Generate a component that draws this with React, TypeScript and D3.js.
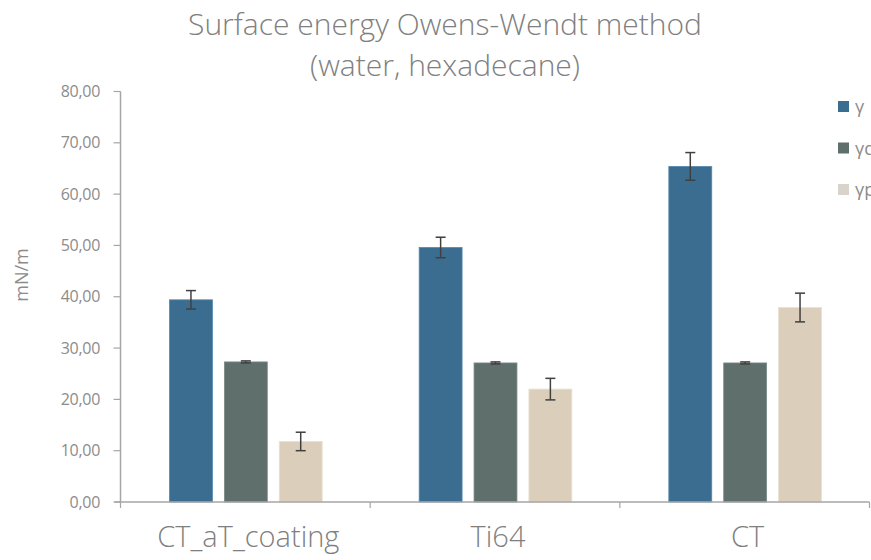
import React from "react";
import * as d3 from "d3";

const categories = ["CT_aT_coating", "Ti64", "CT"];
const series = ["γ", "γd", "γp"];
const gammaTotal = [39.4, 49.6, 65.4];
const gammaDisp = [27.3, 27.1, 27.1];
const gammaPolar = [11.8, 22.0, 37.9];
const errTotal = [1.8, 2.0, 2.7];
const errDisp = [0.2, 0.2, 0.2];
const errPolar = [1.8, 2.1, 2.8];
const yTicks = [0, 10, 20, 30, 40, 50, 60, 70, 80];
const colors = ["#3b6d90", "#5f6f6c", "#dbcfbc"];
const strokes = ["#5588ad", "#7c8a88", "#e8e0d2"];
const legendColors = ["#3b6d90", "#5f6f6c", "#d8d4cc"];

const values = [gammaTotal, gammaDisp, gammaPolar];
const errors = [errTotal, errDisp, errPolar];

export default function App() {
  const W = 871, H = 560;
  const left = 120.5, right = 869.5, top = 91.5, bottom = 502;
  const y = d3.scaleLinear().domain([0, 80]).range([bottom, top]);
  const x0 = d3.scaleBand<string>().domain(categories).range([left, right]).paddingInner(0).paddingOuter(0);
  const bw = x0.bandwidth();
  const x1 = d3.scaleBand<string>().domain(series).range([49, bw - 48]).paddingInner(0.218).paddingOuter(0);
  const font = "'Open Sans', 'Noto Sans', sans-serif";
  const fmt = (v: number) => v.toFixed(2).replace(".", ",");
  const axisColor = "#a6a6a6";
  return (
    <svg width={W} height={H} style={{ position: "absolute", left: 0, top: 0 }} fontFamily={font}>
      <rect width={W} height={H} fill="#ffffff" />
      <text x={445} y={35} textAnchor="middle" fontSize={30} fill="#808080" fontWeight={300}>
        Surface energy Owens-Wendt method
      </text>
      <text x={445} y={76} textAnchor="middle" fontSize={30} fill="#808080" fontWeight={300}>
        (water, hexadecane)
      </text>
      {/* y axis */}
      <line x1={left} x2={left} y1={top} y2={bottom} stroke={axisColor} strokeWidth={1.5} />
      {yTicks.map((t) => (
        <g key={t}>
          <line x1={left - 7} x2={left} y1={y(t)} y2={y(t)} stroke={axisColor} strokeWidth={1.2} />
          <text x={100} y={y(t)} dy="0.35em" textAnchor="end" fontSize={16} fill="#8c8c8c" letterSpacing={-0.3}>
            {fmt(t)}
          </text>
        </g>
      ))}
      <text transform={`translate(28,275) rotate(-90)`} textAnchor="middle" fontSize={18} fill="#8c8c8c">
        mN/m
      </text>
      {/* bars */}
      {categories.map((c, ci) =>
        series.map((s, si) => {
          const v = values[si][ci];
          const bx = (x0(c) as number) + (x1(s) as number);
          const w = x1.bandwidth();
          const e = errors[si][ci];
          const cx = bx + w / 2;
          return (
            <g key={c + s}>
              <rect x={bx} y={y(v)} width={w} height={bottom - y(v)} fill={colors[si]} stroke={strokes[si]} strokeWidth={0.8} />
              <line x1={cx} x2={cx} y1={y(v + e)} y2={y(v - e)} stroke="#404040" strokeWidth={1.5} />
              <line x1={cx - 5} x2={cx + 5} y1={y(v + e)} y2={y(v + e)} stroke="#404040" strokeWidth={1.5} />
              <line x1={cx - 5} x2={cx + 5} y1={y(v - e)} y2={y(v - e)} stroke="#404040" strokeWidth={1.5} />
            </g>
          );
        })
      )}
      {/* x axis */}
      <line x1={left - 6} x2={right} y1={bottom} y2={bottom} stroke={axisColor} strokeWidth={1.5} />
      {[...categories.map((c) => x0(c) as number), right].map((t, i) => (
        <line key={i} x1={t} x2={t} y1={bottom} y2={bottom + 6} stroke={axisColor} strokeWidth={1.2} />
      ))}
      {categories.map((c) => (
        <text key={c} x={(x0(c) as number) + bw / 2 + 3} y={547} textAnchor="middle" fontSize={29} fill="#7f7f7f" fontWeight={300}>
          {c}
        </text>
      ))}
      {/* legend */}
      {series.map((s, i) => (
        <g key={s}>
          <rect x={838} y={101 + i * 41.5} width={11} height={11} fill={legendColors[i]} />
          <text x={855} y={107 + i * 41.5} dy="0.35em" fontSize={18} fill="#8c8c8c">
            {s}
          </text>
        </g>
      ))}
    </svg>
  );
}
